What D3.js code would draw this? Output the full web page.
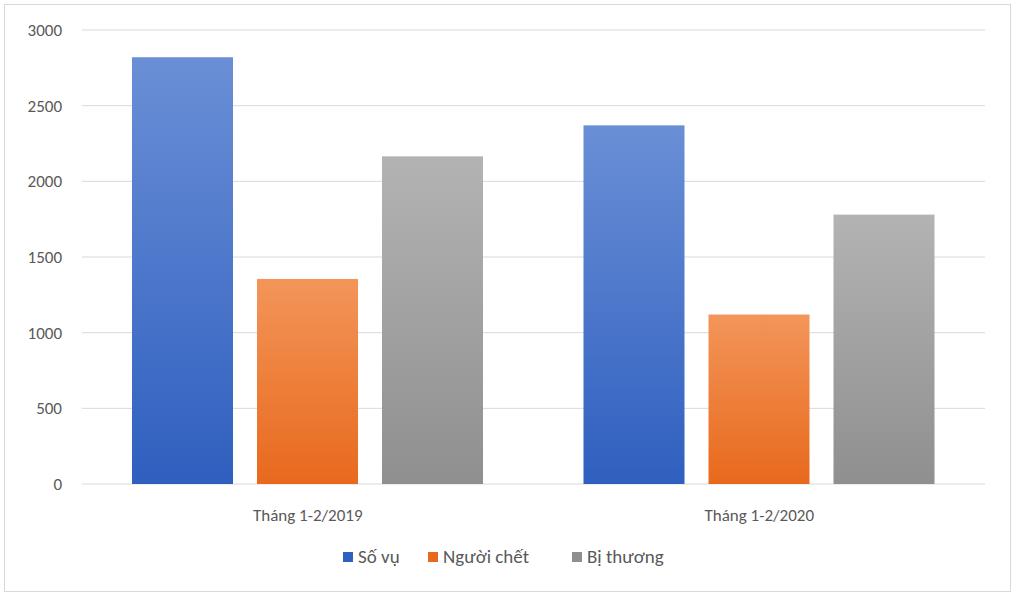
<!DOCTYPE html>
<html><head><meta charset="utf-8">
<script src="https://cdn.jsdelivr.net/npm/d3@7"></script>
<style>body{margin:0;background:#fff;font-family:Calibri,Carlito,"Liberation Sans",Arial,sans-serif}</style>
</head><body>
<svg id="c" width="1016" height="596"></svg>
<script>
const categories = ["Tháng 1-2/2019", "Tháng 1-2/2020"];
const seriesNames = ["Số vụ", "Người chết", "Bị thương"];
const soVu = [2820, 2370];
const nguoiChet = [1355, 1120];
const biThuong = [2165, 1780];
const yTicks = [0, 500, 1000, 1500, 2000, 2500, 3000];
const colors = [["#6a8fd6","#2f5fbf"],["#f3955a","#e8691c"],["#b3b3b3","#8f8f8f"]];
const seriesValues = [soVu, nguoiChet, biThuong];

const svg = d3.select("#c");
svg.append("rect").attr("x",4.5).attr("y",4.5).attr("width",1006).attr("height",587).attr("fill","#fff").attr("stroke","#d9d9d9");
const defs = svg.append("defs");
colors.forEach((c,i)=>{
  const g = defs.append("linearGradient").attr("id","g"+i).attr("x1",0).attr("y1",0).attr("x2",0).attr("y2",1);
  g.append("stop").attr("offset","0%").attr("stop-color",c[0]);
  g.append("stop").attr("offset","100%").attr("stop-color",c[1]);
});
const y = d3.scaleLinear().domain([0,3000]).range([484,30]);
const x0 = d3.scaleBand().domain(categories).range([82,985]);
const x1 = d3.scaleBand().domain(d3.range(3)).range([50,401]).paddingInner(0.192);

svg.append("g").selectAll("line").data(yTicks).join("line")
  .attr("x1",82).attr("x2",985).attr("y1",d=>y(d)).attr("y2",d=>y(d))
  .attr("stroke","#d9d9d9").attr("stroke-width",1);
svg.append("g").selectAll("text").data(yTicks).join("text")
  .attr("x",62).attr("y",d=>y(d)+6).attr("text-anchor","end")
  .attr("font-size",17).attr("fill","#595959").text(d=>d);

categories.forEach((c,ci)=>{
  seriesValues.forEach((s,si)=>{
    svg.append("rect").attr("x",x0(c)+x1(si)).attr("width",x1.bandwidth())
      .attr("y",y(s[ci])).attr("height",y(0)-y(s[ci])).attr("fill",`url(#g${si})`);
  });
  svg.append("text").attr("x",x0(c)+x0.bandwidth()/2).attr("y",521).attr("text-anchor","middle")
    .attr("font-size",17).attr("fill","#595959").text(c);
});
const legX = [343, 428, 572];
seriesNames.forEach((n,i)=>{
  svg.append("rect").attr("x",legX[i]).attr("y",552).attr("width",10).attr("height",10).attr("fill",colors[i][1]);
  svg.append("text").attr("x",legX[i]+15).attr("y",563).attr("font-size",19).attr("fill","#595959").text(n);
});
</script>
</body></html>
